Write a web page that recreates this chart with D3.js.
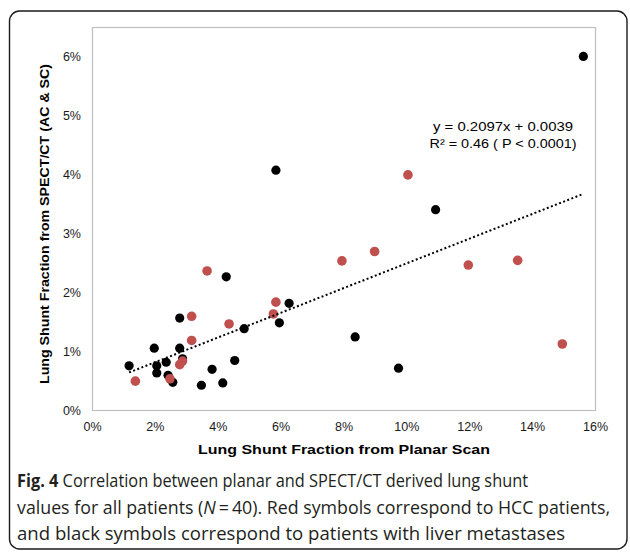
<!DOCTYPE html>
<html>
<head>
<meta charset="utf-8">
<script src="https://cdn.jsdelivr.net/npm/d3@7"></script>
<style>
  body { margin: 0; background: #fff; }
  svg { display: block; }
</style>
</head>
<body>
<div id="chart"></div>
<script>
// Lung shunt fraction: planar (x) vs SPECT/CT (y), in percent
const metX = [15.63, 5.85, 10.93, 4.27, 6.27, 5.96, 2.79, 4.84, 8.37, 1.98, 2.79, 1.18, 2.06, 2.36, 2.88, 2.06, 2.42, 2.57, 3.48, 3.82, 4.16, 4.54, 9.75];
const metY = [6.00, 4.07, 3.40, 2.26, 1.81, 1.48, 1.56, 1.38, 1.24, 1.05, 1.05, 0.75, 0.75, 0.81, 0.87, 0.63, 0.59, 0.47, 0.42, 0.69, 0.46, 0.84, 0.71];
const hccX = [3.66, 5.85, 5.77, 3.17, 4.36, 3.17, 2.88, 2.79, 2.48, 1.38, 10.05, 7.95, 8.99, 11.97, 13.54, 14.96];
const hccY = [2.36, 1.83, 1.63, 1.59, 1.46, 1.18, 0.83, 0.77, 0.53, 0.49, 3.99, 2.53, 2.69, 2.46, 2.54, 1.12];
const xTicks = [0, 2, 4, 6, 8, 10, 12, 14, 16];
const yTicks = [0, 1, 2, 3, 4, 5, 6];
const slope = 0.2097, intercept = 0.0039;
const eqLines = ['y = 0.2097x + 0.0039', 'R\u00b2 = 0.46 ( P < 0.0001)'];
const xTitle = 'Lung Shunt Fraction from Planar Scan';
const yTitle = 'Lung Shunt Fraction from SPECT/CT (AC & SC)';

(function(){
  const W = 630, H = 552;
  const svg = d3.select('#chart').append('svg').attr('width', W).attr('height', H);

  // outer rounded frame
  svg.append('rect').attr('x', 9.5).attr('y', 11).attr('width', 617.5).attr('height', 538)
    .attr('rx', 10).attr('fill', 'none').attr('stroke', '#1a1a1a').attr('stroke-width', 1.4);

  const plot = {left: 92, right: 595, top: 27, bottom: 410};
  const x = d3.scaleLinear().domain([0, 16]).range([plot.left, plot.right]);
  const y = d3.scaleLinear().domain([0, 6.5]).range([plot.bottom, plot.top]);

  svg.append('rect').attr('x', plot.left + 0.5).attr('y', plot.top + 0.5)
    .attr('width', plot.right - plot.left).attr('height', plot.bottom - plot.top)
    .attr('fill', 'none').attr('stroke', '#bfbfbf').attr('stroke-width', 1.2);

  const font = '"Liberation Sans", Arial, sans-serif';

  const xAxis = svg.append('g').attr('transform', `translate(0,${plot.bottom})`)
    .call(d3.axisBottom(x).tickValues(xTicks).tickSize(0).tickPadding(12).tickFormat(d => d + '%'));
  const yAxis = svg.append('g').attr('transform', `translate(${plot.left},0)`)
    .call(d3.axisLeft(y).tickValues(yTicks).tickSize(0).tickPadding(11).tickFormat(d => d + '%'));
  [xAxis, yAxis].forEach(a => {
    a.select('.domain').remove();
    a.selectAll('text').attr('font-family', font).attr('font-size', 12.5).attr('fill', '#1a1a1a');
  });

  svg.append('text').attr('x', 344).attr('y', 454)
    .attr('text-anchor', 'middle').attr('font-family', font).attr('font-size', 13.5)
    .attr('font-weight', 'bold').attr('textLength', 292).attr('lengthAdjust', 'spacingAndGlyphs').text(xTitle);
  svg.append('text').attr('transform', `translate(49,224) rotate(-90)`)
    .attr('text-anchor', 'middle').attr('font-family', font).attr('font-size', 13.5)
    .attr('font-weight', 'bold').attr('textLength', 320).attr('lengthAdjust', 'spacingAndGlyphs').text(yTitle);

  // liver metastases first, HCC on top
  svg.append('g').selectAll('circle').data(metX.map((v, i) => [v, metY[i]])).enter().append('circle')
    .attr('cx', d => x(d[0])).attr('cy', d => y(d[1])).attr('r', 4.6).attr('fill', '#000');
  svg.append('g').selectAll('circle').data(hccX.map((v, i) => [v, hccY[i]])).enter().append('circle')
    .attr('cx', d => x(d[0])).attr('cy', d => y(d[1])).attr('r', 4.8).attr('fill', '#c0504d');

  // linear trendline across the data range
  const allX = metX.concat(hccX);
  const x0 = d3.min(allX), x1 = d3.max(allX);
  svg.append('line')
    .attr('x1', x(x0)).attr('y1', y(slope * x0 + intercept * 100))
    .attr('x2', x(x1)).attr('y2', y(slope * x1 + intercept * 100))
    .attr('stroke', '#000').attr('stroke-width', 2).attr('stroke-dasharray', '2,2.4');

  const eqLen = [140, 147];
  svg.append('g').selectAll('text').data(eqLines).enter().append('text')
    .attr('x', 503).attr('y', (d, i) => 131 + i * 16.5)
    .attr('text-anchor', 'middle').attr('font-family', font).attr('font-size', 13.5)
    .attr('textLength', (d, i) => eqLen[i]).attr('lengthAdjust', 'spacingAndGlyphs')
    .attr('fill', '#000').text(d => d);

  // figure caption
  const cap = '"Open Sans", "Noto Sans", sans-serif';
  const c1 = svg.append('text').attr('x', 17).attr('y', 487).attr('font-family', cap)
    .attr('font-size', 17.5).attr('fill', '#231f20').attr('textLength', 511).attr('lengthAdjust', 'spacingAndGlyphs');
  c1.append('tspan').attr('font-weight', 'bold').text('Fig. 4');
  c1.append('tspan').text(' Correlation between planar and SPECT/CT derived lung shunt');
  const c2 = svg.append('text').attr('x', 17).attr('y', 514).attr('font-family', cap)
    .attr('font-size', 17.5).attr('fill', '#231f20').attr('textLength', 593).attr('lengthAdjust', 'spacingAndGlyphs');
  c2.append('tspan').text('values for all patients (');
  c2.append('tspan').attr('font-style', 'italic').text('N');
  c2.append('tspan').text('\u2009=\u200940). Red symbols correspond to HCC patients,');
  svg.append('text').attr('x', 17).attr('y', 540).attr('font-family', cap)
    .attr('font-size', 17.5).attr('fill', '#231f20').attr('textLength', 548).attr('lengthAdjust', 'spacingAndGlyphs')
    .text('and black symbols correspond to patients with liver metastases');
})();
</script>
</body>
</html>
